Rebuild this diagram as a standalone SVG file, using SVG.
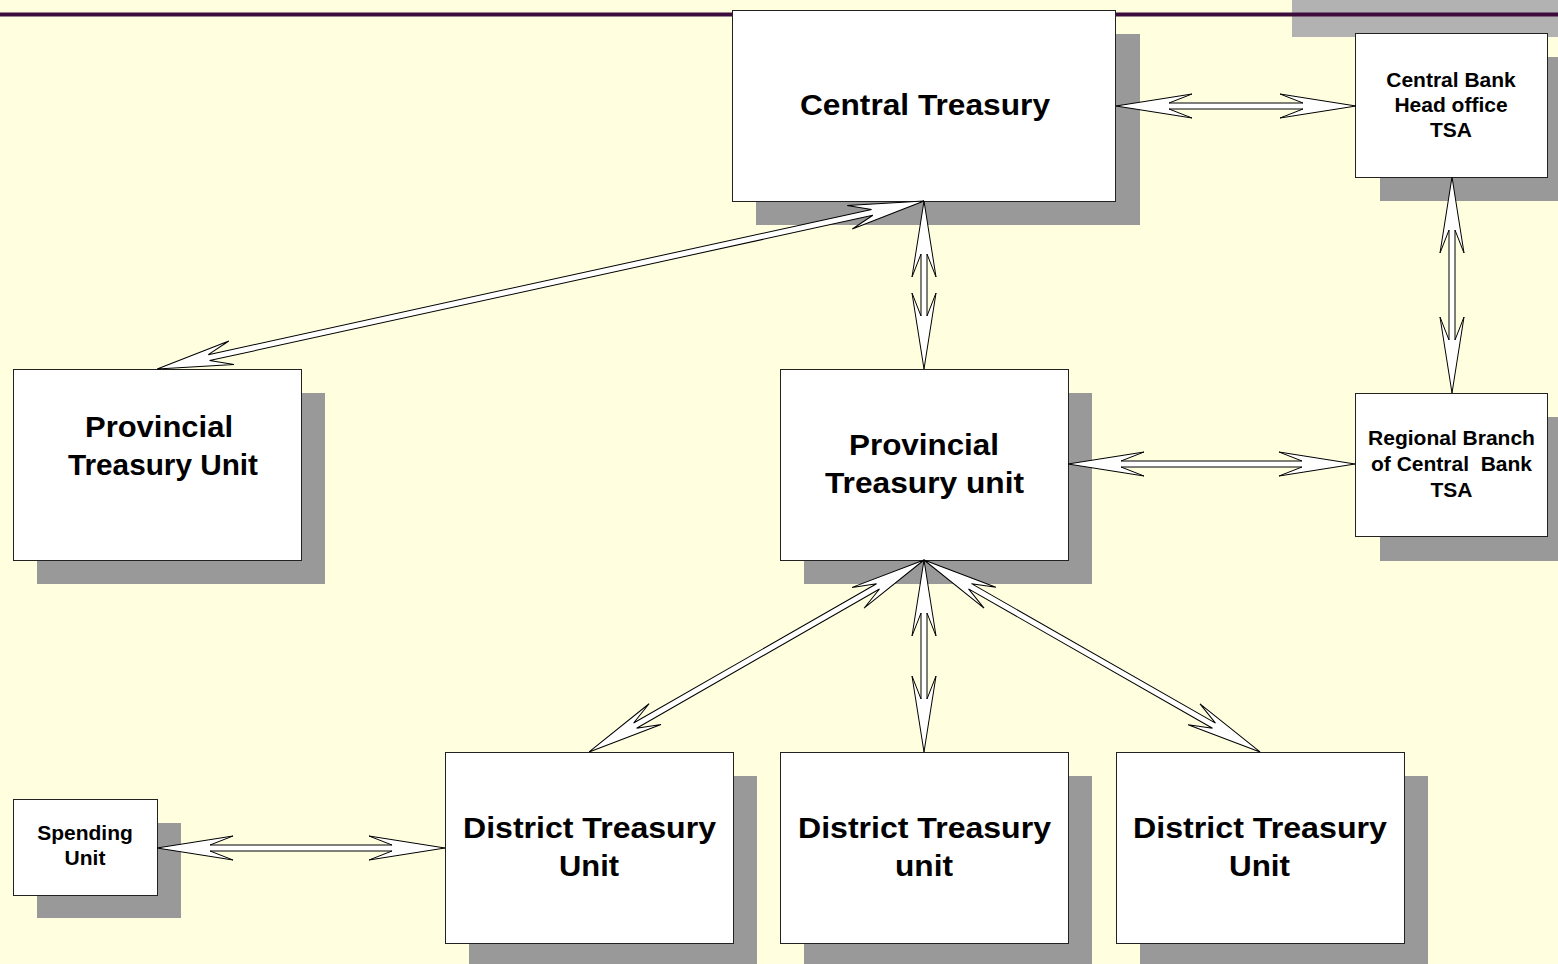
<svg xmlns="http://www.w3.org/2000/svg" width="1558" height="964" viewBox="0 0 1558 964">
<style>
.box{fill:#ffffff;stroke:#222222;stroke-width:1}
.sh{fill:#999999}
.arr{fill:#ffffff;stroke:#000000;stroke-width:1;stroke-linejoin:miter}
.big{font-family:"Liberation Sans",Arial,sans-serif;font-weight:bold;font-size:29px;fill:#000;text-anchor:middle}
.sm{font-family:"Liberation Sans",Arial,sans-serif;font-weight:bold;font-size:21px;fill:#000;text-anchor:middle}
</style>
<rect x="0" y="0" width="1558" height="964" fill="#ffffe0"/>
<rect x="1292" y="0" width="266" height="37" fill="#b2b2b2"/>
<rect x="0" y="12.5" width="1558" height="4" fill="#3c0c3c"/>

<g id="central-treasury">
<rect class="sh" x="756" y="34" width="384" height="191"/>
<rect class="box" x="732.5" y="10.5" width="383" height="191"/>
<text class="big" x="925" y="115" textLength="250" lengthAdjust="spacingAndGlyphs">Central Treasury</text>
</g>

<g id="central-bank">
<rect class="sh" x="1380" y="57" width="192" height="144"/>
<rect class="box" x="1355.5" y="33.5" width="192" height="144"/>
<text class="sm" x="1451" y="87">Central Bank</text>
<text class="sm" x="1451" y="112">Head office</text>
<text class="sm" x="1451" y="137">TSA</text>
</g>

<g id="provincial-left">
<rect class="sh" x="37" y="393" width="288" height="191"/>
<rect class="box" x="13.5" y="369.5" width="288" height="191"/>
<text class="big" x="159" y="437" textLength="148" lengthAdjust="spacingAndGlyphs">Provincial</text>
<text class="big" x="163" y="475" textLength="190" lengthAdjust="spacingAndGlyphs">Treasury Unit</text>
</g>

<g id="provincial-center">
<rect class="sh" x="804" y="393" width="288" height="191"/>
<rect class="box" x="780.5" y="369.5" width="288" height="191"/>
<text class="big" x="924" y="455" textLength="150" lengthAdjust="spacingAndGlyphs">Provincial</text>
<text class="big" x="924.5" y="493" textLength="199" lengthAdjust="spacingAndGlyphs">Treasury unit</text>
</g>

<g id="regional-branch">
<rect class="sh" x="1380" y="417" width="192" height="144"/>
<rect class="box" x="1355.5" y="393.5" width="192" height="143"/>
<text class="sm" x="1451.5" y="445">Regional Branch</text>
<text class="sm" x="1451.5" y="471" xml:space="preserve">of Central  Bank</text>
<text class="sm" x="1451.5" y="497">TSA</text>
</g>

<g id="spending-unit">
<rect class="sh" x="37" y="823" width="144" height="95"/>
<rect class="box" x="13.5" y="799.5" width="144" height="96"/>
<text class="sm" x="85" y="840">Spending</text>
<text class="sm" x="85" y="865">Unit</text>
</g>

<g id="district-1">
<rect class="sh" x="469" y="776" width="288" height="191"/>
<rect class="box" x="445.5" y="752.5" width="288" height="191"/>
<text class="big" x="589.5" y="838" textLength="253" lengthAdjust="spacingAndGlyphs">District Treasury</text>
<text class="big" x="589" y="876" textLength="60" lengthAdjust="spacingAndGlyphs">Unit</text>
</g>

<g id="district-2">
<rect class="sh" x="804" y="776" width="288" height="191"/>
<rect class="box" x="780.5" y="752.5" width="288" height="191"/>
<text class="big" x="924.5" y="838" textLength="253" lengthAdjust="spacingAndGlyphs">District Treasury</text>
<text class="big" x="924" y="876" textLength="58" lengthAdjust="spacingAndGlyphs">unit</text>
</g>

<g id="district-3">
<rect class="sh" x="1140" y="776" width="288" height="191"/>
<rect class="box" x="1116.5" y="752.5" width="288" height="191"/>
<text class="big" x="1260" y="838" textLength="254" lengthAdjust="spacingAndGlyphs">District Treasury</text>
<text class="big" x="1259.5" y="876" textLength="61" lengthAdjust="spacingAndGlyphs">Unit</text>
</g>

<g id="connectors">
<polygon class="arr" transform="translate(1116,106)" points="0,0 76,-12 53,-3 187,-3 164,-12 240,0 164,12 187,3 53,3 76,12"/>
<polygon class="arr" transform="translate(924,201) rotate(167.645)" points="0,0 76,-12 53,-3 732,-3 709,-12 785,0 709,12 732,3 53,3 76,12"/>
<polygon class="arr" transform="translate(924,201) rotate(90)" points="0,0 76,-12 53,-3 115,-3 92,-12 168,0 92,12 115,3 53,3 76,12"/>
<polygon class="arr" transform="translate(1452,177) rotate(90)" points="0,0 76,-12 53,-3 163,-3 140,-12 216,0 140,12 163,3 53,3 76,12"/>
<polygon class="arr" transform="translate(1068,464)" points="0,0 76,-12 53,-3 234,-3 211,-12 287,0 211,12 234,3 53,3 76,12"/>
<polygon class="arr" transform="translate(924,560) rotate(150.18)" points="0,0 76,-12 53,-3 333,-3 310,-12 386,0 310,12 333,3 53,3 76,12"/>
<polygon class="arr" transform="translate(924,560) rotate(90)" points="0,0 76,-12 53,-3 139,-3 116,-12 192,0 116,12 139,3 53,3 76,12"/>
<polygon class="arr" transform="translate(924,560) rotate(29.74)" points="0,0 76,-12 53,-3 334,-3 311,-12 387,0 311,12 334,3 53,3 76,12"/>
<polygon class="arr" transform="translate(157,848)" points="0,0 76,-12 53,-3 235,-3 212,-12 288,0 212,12 235,3 53,3 76,12"/>
</g>
</svg>
